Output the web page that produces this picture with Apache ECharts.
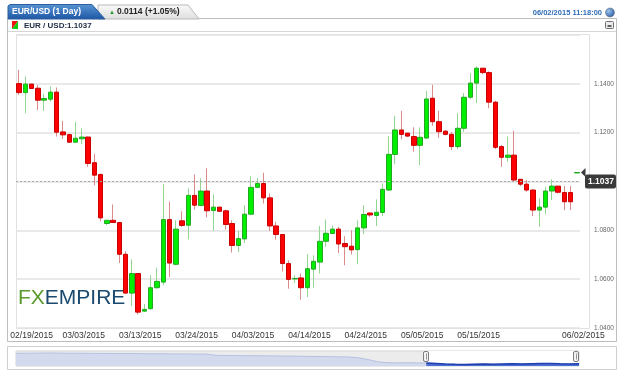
<!DOCTYPE html>
<html>
<head>
<meta charset="utf-8">
<script src="https://cdn.jsdelivr.net/npm/echarts@6/dist/echarts.min.js"></script>
<style>html,body{margin:0;padding:0;background:#fff;}#c{width:618px;height:371px;}</style>
</head>
<body>
<div id="c"></div>
<script>
// ---- data ----
const dates = ['02/19/2015','02/20/2015','02/22/2015','02/23/2015','02/24/2015','02/25/2015','02/26/2015','02/27/2015','03/01/2015','03/02/2015',
'03/03/2015','03/04/2015','03/05/2015','03/06/2015','03/08/2015','03/09/2015','03/10/2015','03/11/2015','03/12/2015','03/13/2015',
'03/15/2015','03/16/2015','03/17/2015','03/18/2015','03/19/2015','03/20/2015','03/22/2015','03/23/2015','03/24/2015','03/25/2015',
'03/26/2015','03/27/2015','03/29/2015','03/30/2015','03/31/2015','04/01/2015','04/02/2015','04/03/2015','04/05/2015','04/06/2015',
'04/07/2015','04/08/2015','04/09/2015','04/10/2015','04/12/2015','04/13/2015','04/14/2015','04/15/2015','04/16/2015','04/17/2015',
'04/19/2015','04/20/2015','04/21/2015','04/22/2015','04/23/2015','04/24/2015','04/26/2015','04/27/2015','04/28/2015','04/29/2015',
'04/30/2015','05/01/2015','05/03/2015','05/04/2015','05/05/2015','05/06/2015','05/07/2015','05/08/2015','05/10/2015','05/11/2015',
'05/12/2015','05/13/2015','05/14/2015','05/15/2015','05/17/2015','05/18/2015','05/19/2015','05/20/2015','05/21/2015','05/22/2015',
'05/24/2015','05/25/2015','05/26/2015','05/27/2015','05/28/2015','05/29/2015','05/30/2015','05/31/2015','06/01/2015','06/02/2015'];
const opens = [1.1401,1.1364,1.1399,1.1382,1.1333,1.1337,1.1366,1.1203,1.1192,1.1161,
1.1175,1.1182,1.1077,1.1029,1.0828,1.0841,1.0832,1.0702,1.0543,1.0623,
1.0469,1.0479,1.0565,1.0588,1.0844,1.0661,1.0839,1.0821,1.0943,1.0902,
1.0961,1.0881,1.0895,1.0880,1.0828,1.0738,1.0765,1.0866,1.0976,1.0992,
1.0933,1.0818,1.0783,1.0664,1.0601,1.0605,1.0565,1.0641,1.0670,1.0755,
1.0787,1.0805,1.0746,1.0735,1.0721,1.0810,1.0871,1.0861,1.0873,1.0965,
1.1111,1.1211,1.1198,1.1184,1.1148,1.1178,1.1341,1.1245,1.1206,1.1193,
1.1143,1.1218,1.1345,1.1403,1.1464,1.1446,1.1325,1.1143,1.1099,1.1108,
1.1009,1.0989,1.0965,1.0883,1.0895,1.0961,1.0981,1.0955,1.0955,1.1035];
const closes = [1.1364,1.1399,1.1381,1.1333,1.1340,1.1366,1.1202,1.1191,1.1161,1.1177,
1.1182,1.1074,1.1026,1.0851,1.0841,1.0832,1.0702,1.0543,1.0623,1.0465,
1.0476,1.0565,1.0591,1.0844,1.0666,1.0805,1.0820,1.0943,1.0903,1.0961,
1.0880,1.0895,1.0878,1.0824,1.0738,1.0766,1.0866,1.0976,1.0992,1.0933,
1.0818,1.0783,1.0664,1.0599,1.0603,1.0565,1.0643,1.0673,1.0755,1.0788,
1.0805,1.0744,1.0733,1.0720,1.0810,1.0865,1.0863,1.0874,1.0968,1.1111,
1.1211,1.1193,1.1186,1.1148,1.1181,1.1338,1.1245,1.1204,1.1193,1.1143,
1.1218,1.1345,1.1403,1.1464,1.1446,1.1325,1.1140,1.1099,1.1108,1.1006,
1.0989,1.0965,1.0883,1.0895,1.0961,1.0981,1.0956,1.0917,1.0917,1.1037];
const lows = [1.1355,1.1280,1.1379,1.1293,1.1289,1.1326,1.1184,1.1174,1.1158,1.1159,
1.1154,1.1060,1.0985,1.0837,1.0821,1.0830,1.0666,1.0540,1.0490,1.0455,
1.0465,1.0476,1.0561,1.0575,1.0609,1.0657,1.0814,1.0763,1.0885,1.0900,
1.0853,1.0798,1.0877,1.0803,1.0709,1.0711,1.0748,1.0862,1.0976,1.0910,
1.0798,1.0762,1.0632,1.0561,1.0584,1.0516,1.0527,1.0565,1.0623,1.0732,
1.0787,1.0707,1.0657,1.0701,1.0661,1.0784,1.0855,1.0817,1.0858,1.0961,
1.1071,1.1173,1.1182,1.1122,1.1067,1.1174,1.1228,1.1179,1.1189,1.1129,
1.1132,1.1204,1.1337,1.1321,1.1440,1.1300,1.1133,1.1060,1.1081,1.0999,
1.0981,1.0958,1.0858,1.0814,1.0865,1.0924,1.0951,1.0883,1.0883,1.1035];
const highs = [1.1457,1.1430,1.1400,1.1395,1.1359,1.1389,1.1385,1.1248,1.1195,1.1244,
1.1218,1.1184,1.1113,1.1031,1.0843,1.0906,1.0834,1.0715,1.0681,1.0625,
1.0499,1.0616,1.0647,1.0989,1.0917,1.0841,1.0878,1.0972,1.1029,1.1013,
1.1054,1.0947,1.0896,1.0885,1.0841,1.0798,1.0903,1.1022,1.1015,1.1036,
1.0951,1.0835,1.0785,1.0677,1.0616,1.0623,1.0702,1.0698,1.0818,1.0844,
1.0820,1.0814,1.0776,1.0800,1.0841,1.0903,1.0872,1.0927,1.0992,1.1186,
1.1269,1.1289,1.1199,1.1222,1.1222,1.1371,1.1396,1.1289,1.1211,1.1203,
1.1280,1.1362,1.1444,1.1471,1.1465,1.1451,1.1330,1.1150,1.1184,1.1208,
1.1010,1.1006,1.0968,1.0931,1.0978,1.1009,1.0982,1.0981,1.0981,1.1037];
const xLabelIdx = [0,10,19,28,37,46,55,64,73,89];
const yTicks = {min:1.04, max:1.16, step:0.02};
const lastPrice = 1.1037;
const changeText = '0.0114 (+1.05%)';
const titleText = 'EUR/USD (1 Day)';
const symbolText = 'EUR / USD:1.1037';
const stampText = '06/02/2015 11:18:00';
// navigator (long history) values
const navValues = [1.385,1.39,1.39,1.395,1.395,1.39,1.39,1.388,1.385,1.385,1.382,1.38,1.38,1.378,1.375,1.375,1.372,1.37,1.37,1.368,1.365,
1.33,1.33,1.325,1.32,1.322,1.318,1.315,1.312,1.31,1.305,1.30,1.298,1.295,1.29,1.285,
1.26,1.21,1.15,1.13,1.125,1.13,1.125,
1.125,1.11,1.095,1.085,1.08,1.09,1.095,1.09,1.095,1.10,1.095,1.10,1.105,1.11,1.10,1.095,1.10];
const navSelStart = 43;

// ---- build ----
const wickData = opens.map((o,i)=>[o, closes[i], lows[i], highs[i]]);
const bodyData = opens.map((o,i)=>[o, closes[i], Math.min(o,closes[i]), Math.max(o,closes[i])]);
const navIdx = navValues.map((_,i)=>i);
const navSel = navValues.map((v,i)=> i>=navSelStart ? v : '-');
const FONT = 'Liberation Sans';

const chart = echarts.init(document.getElementById('c'), null, {renderer:'canvas'});
const lblBase = {fontSize:8.5, color:'#333', fontFamily:FONT};
const option = {
  backgroundColor:'#ffffff',
  animation:false,
  grid:[
    {left:16, top:35, width:564, height:293, show:false},
    {left:16, top:351, width:563, height:15, show:true, backgroundColor:'#ececec', borderColor:'#d4d4d4', borderWidth:1}
  ],
  xAxis:[
    {type:'category', gridIndex:0, data:dates, boundaryGap:true,
     axisLine:{show:false}, axisTick:{show:false}, splitLine:{show:false},
     axisLabel:{
       interval:(idx)=>xLabelIdx.indexOf(idx)>=0,
       margin:3,
       formatter:(val,idx)=> idx===0 ? '{f|'+val+'}' : (idx===dates.length-1 ? '{l|'+val+'}' : '{m|'+val+'}'),
       rich:{
         f:Object.assign({padding:[0,0,0,25]}, lblBase),
         m:Object.assign({padding:[0,0,0,4]}, lblBase),
         l:Object.assign({padding:[0,0,0,13]}, lblBase)
       }
     }},
    {type:'category', gridIndex:1, data:navIdx, boundaryGap:false, show:false}
  ],
  yAxis:[
    {type:'value', gridIndex:0, position:'right', min:yTicks.min, max:yTicks.max, interval:yTicks.step,
     axisLine:{show:false}, axisTick:{show:false},
     splitLine:{lineStyle:{color:'#e9e9e9', width:2}},
     axisLabel:{formatter:(v)=>v.toFixed(4), fontSize:6.5, color:'#666', margin:14, fontFamily:FONT, showMaxLabel:false}},
    {type:'value', gridIndex:1, min:1.04, max:1.45, show:false}
  ],
  series:[
    {name:'wick', type:'candlestick', xAxisIndex:0, yAxisIndex:0, data:wickData, barWidth:1, z:2,
     itemStyle:{color:'#93d693', color0:'#db8a8a', borderColor:'#93d693', borderColor0:'#db8a8a', borderWidth:1}},
    {name:'body', type:'candlestick', xAxisIndex:0, yAxisIndex:0, data:bodyData, barWidth:5, z:3,
     itemStyle:{color:'#00ee00', color0:'#ff0000', borderColor:'#24a824', borderColor0:'#c80000', borderWidth:1},
     markLine:{silent:true, animation:false, symbol:['none','none'], data:[{yAxis:lastPrice}],
       lineStyle:{type:[2,2], color:'#aaaaaa', width:1},
       label:{show:true, position:'end', formatter:lastPrice.toFixed(4), color:'#ffffff', backgroundColor:'#3a3a3a',
              fontSize:8.5, fontWeight:'bold', fontFamily:FONT, padding:[3,2,2,3], borderRadius:2, distance:5},
       emphasis:{disabled:true}}},
    {name:'navAll', type:'line', xAxisIndex:1, yAxisIndex:1, data:navValues, symbol:'none', z:2,
     lineStyle:{color:'#b4c0e0', width:1}, areaStyle:{color:'#d3daed', opacity:1}},
    {name:'navSel', type:'line', xAxisIndex:1, yAxisIndex:1, data:navSel, symbol:'none', z:3,
     lineStyle:{color:'#1f3fae', width:1.5}, areaStyle:{color:'#4d6fd3', opacity:1},
     markArea:{silent:true, itemStyle:{color:'#ffffff'}, data:[[{xAxis:navSelStart},{xAxis:navValues.length-1}]]}}
  ]
};
chart.setOption(option);

// decorations (frames, header, logo), plus elements placed from the axes
const yPrice = chart.convertToPixel({yAxisIndex:0}, lastPrice);
const xGridRight = 580;
const hx1 = chart.convertToPixel({xAxisIndex:1}, navSelStart);
const hx2 = chart.convertToPixel({xAxisIndex:1}, navValues.length-1) - 3;
function handle(x){
  return {type:'group', z:20, children:[
    {type:'rect', z:20, shape:{x:Math.round(x)-2.5, y:351.5, width:5, height:10, r:1.5}, style:{fill:'#f2f2f2', stroke:'#7d7d7d', lineWidth:1}},
    {type:'line', z:21, shape:{x1:Math.round(x)+0.5, y1:353.5, x2:Math.round(x)+0.5, y2:359.5}, style:{stroke:'#999', lineWidth:1}}
  ]};
}
chart.setOption({graphic:[
  // widget frames
  {type:'rect', z:0, shape:{x:7.5, y:18.5, width:609, height:323}, style:{fill:null, stroke:'#bdbdbd', lineWidth:1}},
  {type:'line', z:0, shape:{x1:8, y1:31.5, x2:616, y2:31.5}, style:{stroke:'#d6d6d6', lineWidth:1}},
  {type:'rect', z:0, shape:{x:16.5, y:34.5, width:573, height:294}, style:{fill:null, stroke:'#e2e2e2', lineWidth:1}},
  {type:'rect', z:0, shape:{x:7.5, y:346.5, width:609, height:23}, style:{fill:null, stroke:'#cfcfcf', lineWidth:1}},
  // tabs
  {type:'polygon', z:10, shape:{points:[[98,19],[98,5],[188,5],[199,19]]},
   style:{fill:new echarts.graphic.LinearGradient(0,0,0,1,[{offset:0,color:'#fafafa'},{offset:1,color:'#dedede'}]), stroke:'#b9b9b9', lineWidth:1}},
  {type:'polygon', z:11, shape:{points:[[8,19],[8,6],[10,4.5],[92,4.5],[105,19]]},
   style:{fill:new echarts.graphic.LinearGradient(0,0,0,1,[{offset:0,color:'#5a95d6'},{offset:1,color:'#1c56a3'}]), stroke:'#2d5f9f', lineWidth:1}},
  {type:'text', z:12, style:{x:12, y:12, text:titleText, fill:'#ffffff', font:'bold 8.5px "Liberation Sans"', textVerticalAlign:'middle'}},
  {type:'text', z:12, style:{x:109, y:12, text:'\u25B2', fill:'#2b9a2b', font:'6px "Liberation Sans"', textVerticalAlign:'middle'}},
  {type:'text', z:12, style:{x:117, y:12, text:changeText, fill:'#222222', font:'bold 8.5px "Liberation Sans"', textVerticalAlign:'middle'}},
  {type:'text', z:12, style:{x:602, y:13, text:stampText, fill:'#2f6db5', font:'bold 7.5px "Liberation Sans"', textAlign:'right', textVerticalAlign:'middle'}},
  {type:'circle', z:12, shape:{cx:610, cy:12.5, r:4.5}, style:{fill:new echarts.graphic.RadialGradient(0.35,0.35,0.8,[{offset:0,color:'#9cc6f0'},{offset:1,color:'#1d4f9a'}]), stroke:'#6b6b6b', lineWidth:0.5}},
  {type:'rect', z:12, shape:{x:605.5, y:21.5, width:8, height:7, r:1}, style:{fill:'#ececec', stroke:'#6f6f6f', lineWidth:1}},
  {type:'line', z:13, shape:{x1:607.5, y1:26, x2:611.5, y2:26}, style:{stroke:'#333', lineWidth:1.5}},
  // symbol row
  {type:'polygon', z:12, shape:{points:[[12,21],[18,21],[12,29]]}, style:{fill:'#ee1111'}},
  {type:'polygon', z:12, shape:{points:[[18,21],[18,29],[12,29]]}, style:{fill:'#11cc11'}},
  {type:'text', z:12, style:{x:24, y:25.5, text:symbolText, fill:'#1d2b44', font:'bold 8px "Liberation Sans"', textVerticalAlign:'middle'}},
  // logo
  {type:'text', z:1, style:{x:18, y:298, text:'{a|FX}{b|EMPIRE}', textVerticalAlign:'middle',
    rich:{a:{fill:'#5b9a2c', fontSize:21, fontFamily:FONT}, b:{fill:'#1c4a6e', fontSize:21, fontFamily:FONT}}}},
  // price tag arrow
  {type:'polygon', z:30, shape:{points:[[xGridRight+1, yPrice],[xGridRight+5.5, yPrice-4.5],[xGridRight+5.5, yPrice+4.5]]}, style:{fill:'#3a3a3a'}},
  handle(hx1), handle(hx2)
]});
</script>
</body>
</html>
